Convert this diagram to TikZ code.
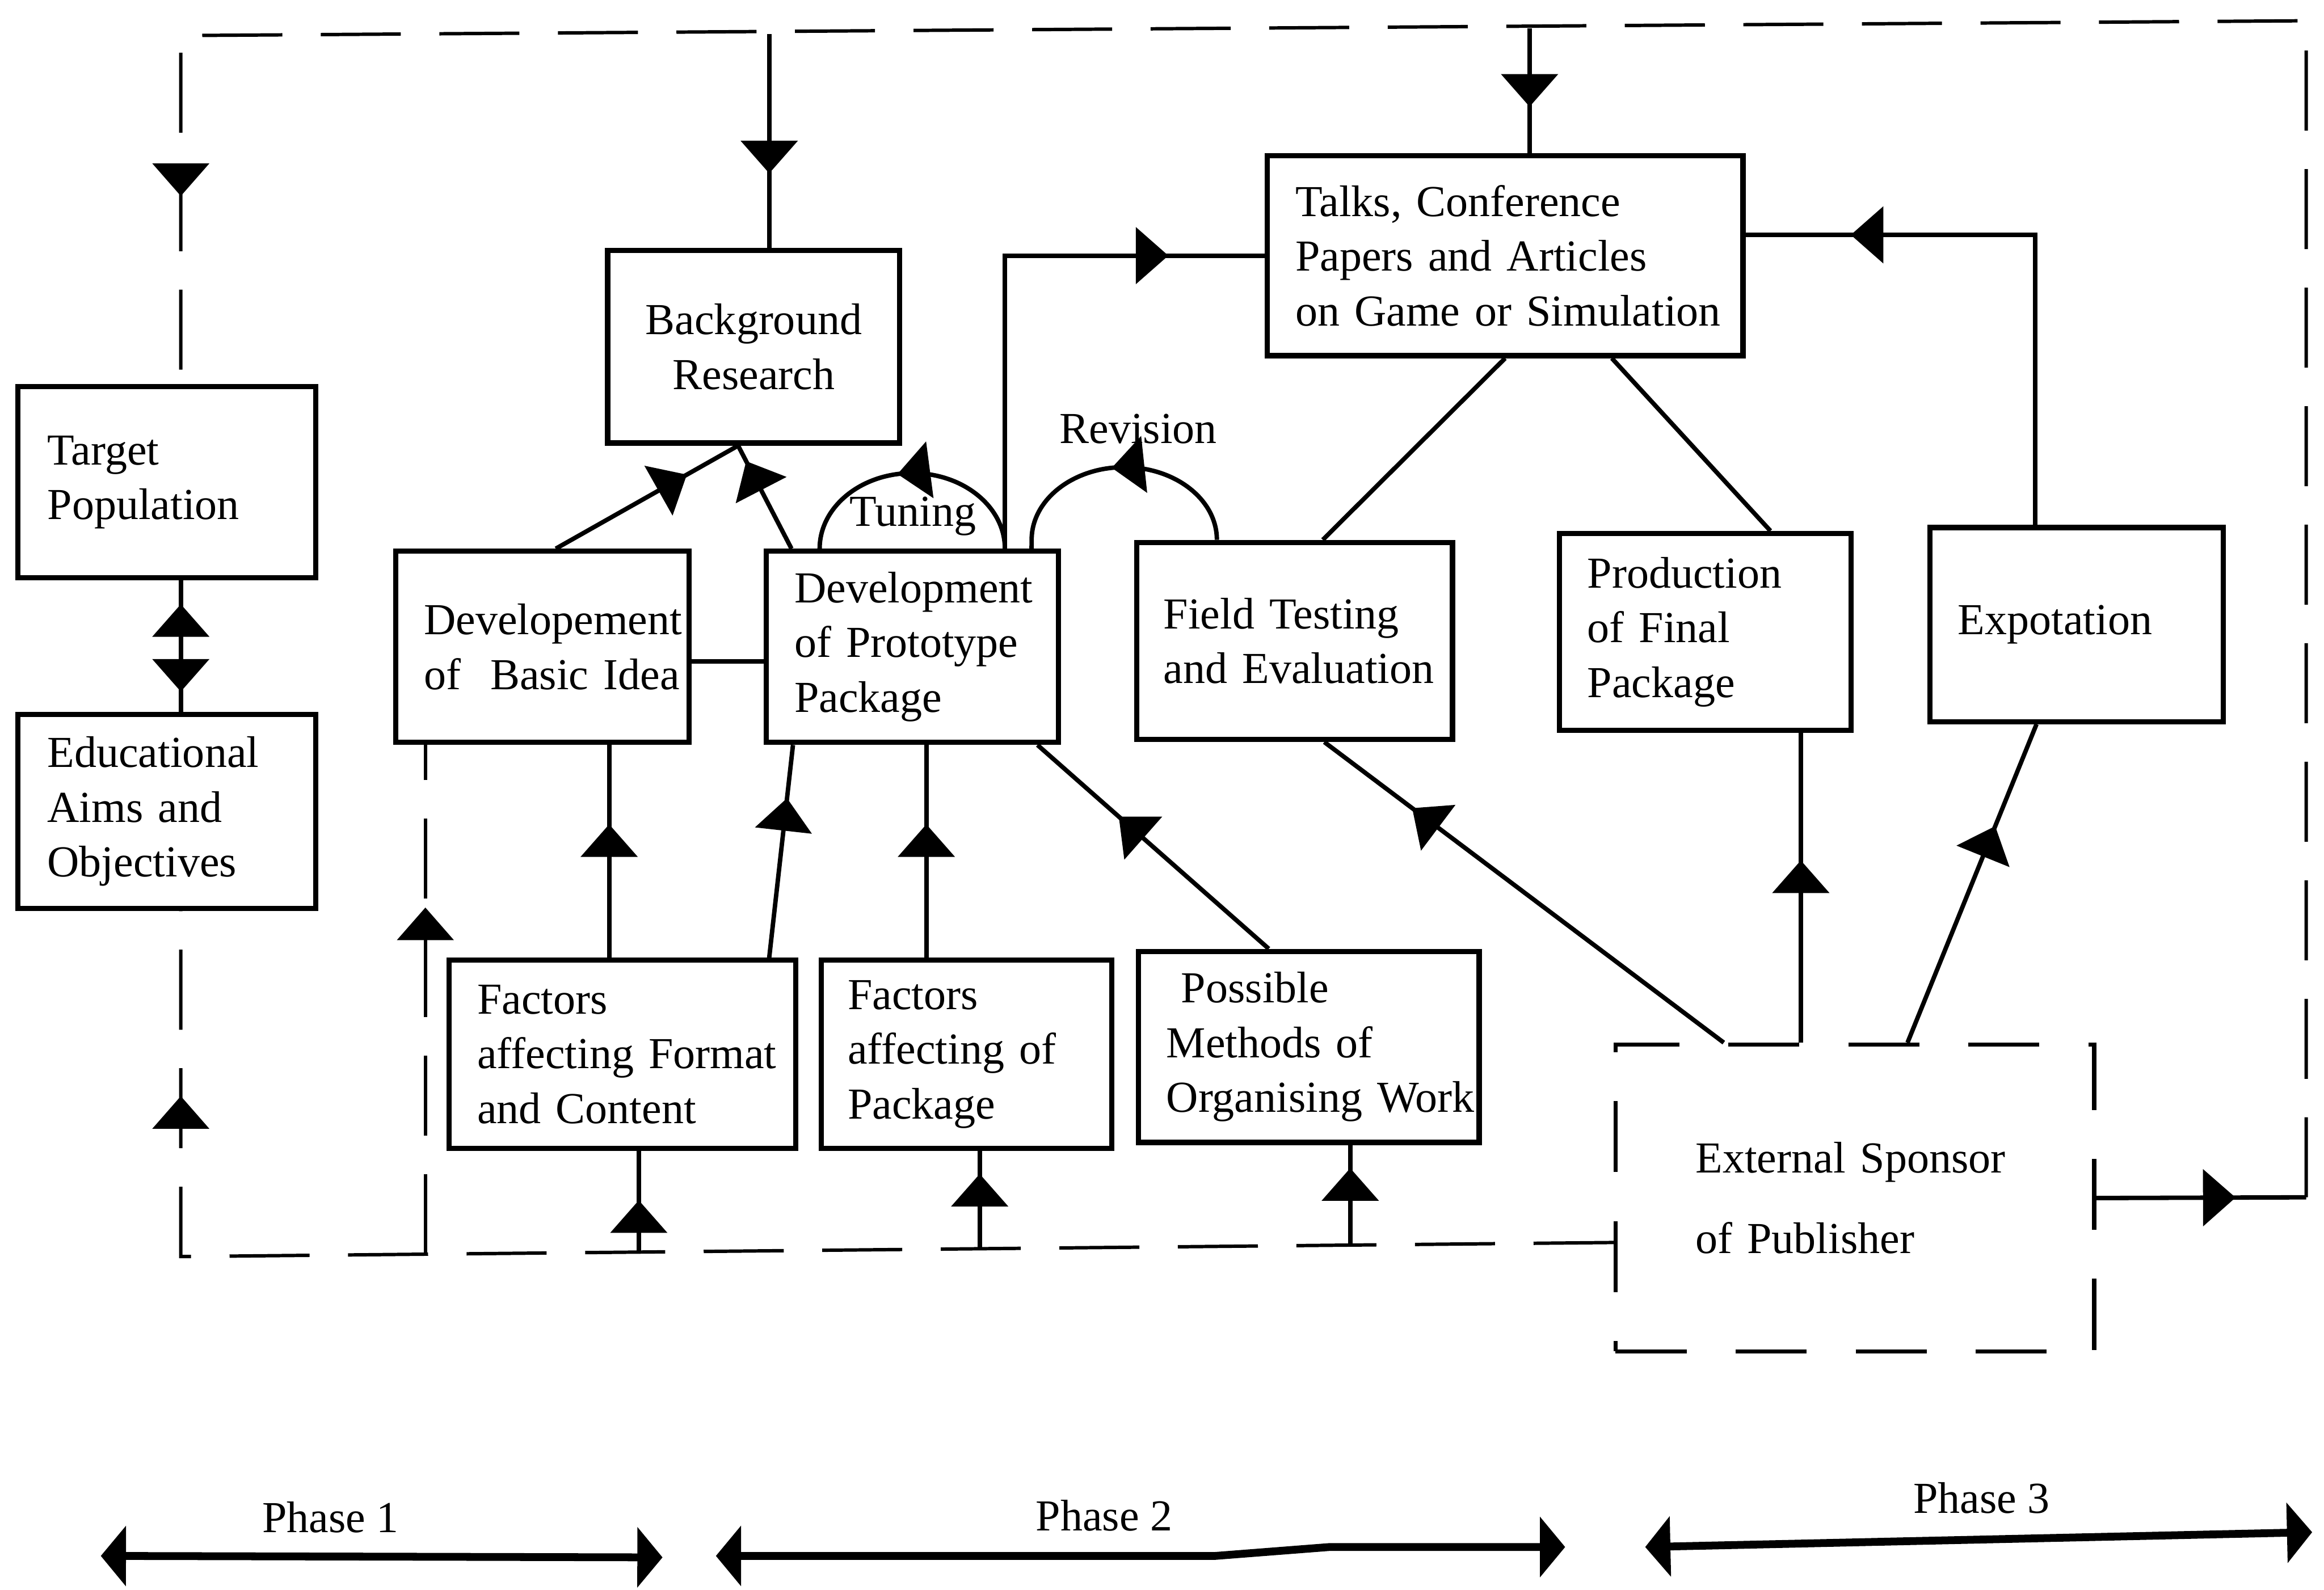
\documentclass[tikz,border=0pt]{standalone}
\usepackage{fontspec}
\setmainfont{Liberation Serif}
\usetikzlibrary{arrows.meta,decorations.markings,calc}

\tikzset{
  box/.style={draw, line width=2pt, rectangle, align=left, inner ysep=0pt,
    inner xsep=0.38cm, font=\fontsize{17}{21}\selectfont},
  sponsorbox/.style={box, line width=1.6pt, dash pattern=on 0.96cm off 0.66cm},
  lbl/.style={inner sep=0pt, font=\fontsize{17}{21}\selectfont},
  conn/.style={line width=1.7pt},
  outer/.style={line width=1.3pt, dash pattern=on 1.08cm off 0.52cm},
  phasearrow/.style={line width=3pt,
    {Triangle[length=0.34cm,width=0.8cm]}-{Triangle[length=0.34cm,width=0.8cm]}},
  mtip/.tip={Triangle[length=0.44cm,width=0.76cm]},
  tipat/.style={postaction={decorate,decoration={markings,
    mark=at position #1 with {\arrow{mtip}}}}},
  tipback/.style={postaction={decorate,decoration={markings,
    mark=at position #1 with {\arrowreversed{mtip}}}}},
}

\begin{document}
\begin{tikzpicture}[x=0.02cm, y=-0.02cm]
\useasboundingbox (0,0) rectangle (1568,1073);

% ---------- boxes ----------
\node[box, text width=3.22cm, inner xsep=0.4cm, minimum height=2.58cm] (tp) at (112.5,325.5)
  {\mbox{Target}\\\mbox{Population}};
\node[box, text width=3.22cm, inner xsep=0.4cm, minimum height=2.62cm] (ea) at (112.5,547.5)
  {\mbox{Educational}\\\mbox{Aims and}\\\mbox{Objectives}};
\node[box, align=center, text width=3.18cm, minimum height=2.6cm] (bg) at (508.5,234)
  {\mbox{Background}\\\mbox{Research}};
\node[box, text width=3.2cm, minimum height=2.58cm] (dbi) at (366,436.5)
  {\mbox{Developement}\\\mbox{of\ \ Basic Idea}};
\node[box, text width=3.18cm, minimum height=2.58cm] (dpp) at (615.5,436.5)
  {\mbox{Development}\\\mbox{of Prototype}\\\mbox{Package}};
\node[box, text width=5.66cm, minimum height=2.7cm] (tk) at (1015.5,172.5)
  {\mbox{Talks, Conference}\\\mbox{Papers and Articles}\\\mbox{on Game or Simulation}};
\node[box, text width=3.54cm, inner xsep=0.36cm, minimum height=2.66cm] (ft) at (873.5,432.5)
  {\mbox{Field Testing}\\\mbox{and Evaluation}};
\node[box, text width=3.18cm, minimum height=2.66cm] (pf) at (1150.5,426.5)
  {\mbox{Production}\\\mbox{of Final}\\\mbox{Package}};
\node[box, text width=3.2cm, minimum height=2.62cm] (ex) at (1401,421.5)
  {\mbox{Expotation}};
\node[box, text width=3.92cm, minimum height=2.54cm] (ffc) at (420,711.5)
  {\mbox{Factors}\\\mbox{affecting Format}\\\mbox{and Content}};
\node[box, text width=3.2cm, inner xsep=0.36cm, minimum height=2.54cm] (fap) at (652,711.5)
  {\mbox{Factors}\\\mbox{affecting of}\\\mbox{Package}};
\node[box, text width=3.84cm, minimum height=2.58cm] (pm) at (883,706.5)
  {\mbox{~Possible}\\\mbox{Methods of}\\\mbox{Organising Work}};
\node[sponsorbox, text width=4.3cm, inner xsep=1.08cm, minimum height=4.14cm] (es) at (1251.5,808.5)
  {\mbox{External Sponsor}\\[10pt]\mbox{of Publisher}};

% ---------- labels ----------
\node[lbl, anchor=base] (tuning) at (616,355) {Tuning};
\node[lbl, anchor=base] (revision) at (768,299) {Revision};
\node[lbl, anchor=base] (ph1) at (223,1034) {Phase 1};
\node[lbl, anchor=base] (ph2) at (745,1033) {Phase 2};
\node[lbl, anchor=base] (ph3) at (1337,1021) {Phase 3};

% ---------- junction points of the feedback loops ----------
\coordinate (tl) at (122,24);
\coordinate (tr) at (1556,14);
\coordinate (rc) at (1556,808);
\coordinate (bl) at (122,848);
\coordinate (d1) at (519,23);
\coordinate (d2) at (1032,19);
\coordinate (j1) at (287,846.4);
\coordinate (j2) at (431,845);
\coordinate (j3) at (661,842.7);
\coordinate (j4) at (911,840.3);

% outer feedback loop: sponsor -> top -> target population
\draw[conn, tipat=1.88cm] (es.east) -- (rc);
\draw[outer, tipat=-2.54cm] (rc) -- (tr) -- (tl) -- (tl |- tp.north);
\draw[conn, tipat=1.88cm] (d1) -- (d1 |- bg.north);
\draw[conn, tipat=1.06cm] (d2) -- (d2 |- tk.north);

% target population <-> educational aims
\draw[conn, tipback=0.32cm, tipat=1.5cm] (tl |- tp.south) -- (tl |- ea.north);

% bottom feedback line from the sponsor
\draw[outer, tipat=-2.5cm] ([yshift=-0.6cm]es.west) -- (bl) -- (bl |- ea.south);
\draw[outer, tipat=4.68cm] (j1) -- (j1 |- dbi.south);
\draw[conn, tipat=0.7cm] (j2) -- (j2 |- ffc.south);
\draw[conn, tipat=1.01cm] (j3) -- (j3 |- fap.south);
\draw[conn, tipat=1.04cm] (j4) -- (j4 |- pm.south);

% phase 1 / phase 2 links
\draw[conn] ([yshift=-0.2cm]dbi.east) -- ([yshift=-0.2cm]dpp.west);
\draw[conn, tipat=0.72] ([xshift=0.18cm]dbi.north) -- ([xshift=-0.21cm]bg.south);
\draw[conn, tipat=0.85] ([xshift=-1.63cm]dpp.north) -- ([xshift=-0.21cm]bg.south);

\coordinate (ffcA) at ([xshift=-0.18cm]ffc.north);
\draw[conn, tipat=1.8cm] (ffcA) -- (ffcA |- dbi.south);
\draw[conn, tipat=0.75] ([xshift=1.98cm]ffc.north) -- ([xshift=-1.61cm]dpp.south);
\coordinate (fapA) at ([xshift=-0.54cm]fap.north);
\draw[conn, tipat=1.8cm] (fapA) -- (fapA |- dpp.south);
\draw[conn, tipat=0.65] ([xshift=-0.54cm]pm.north) -- ([xshift=1.69cm]dpp.south);

% tuning and revision loops
\draw[conn, tipat=0.556] ([xshift=1.25cm]dpp.north)
  arc[start angle=0, end angle=180, x radius=1.25cm, y radius=1.02cm];
\draw[conn, tipat=0.53] ([xshift=-1.05cm]ft.north)
  arc[start angle=0, end angle=180, x radius=1.25cm, y radius=0.98cm]
  -- ([xshift=1.61cm]dpp.north);

% links to talks and papers
\draw[conn, tipat=-1.3cm] ([xshift=1.25cm]dpp.north) |- (tk.west);
\draw[conn, tipat=-1.42cm] ([xshift=-0.56cm]ex.north) |- ([yshift=0.28cm]tk.east);
\draw[conn] (tk.south) -- ([xshift=0.38cm]ft.north);
\draw[conn] ([xshift=1.44cm]tk.south) -- ([xshift=0.88cm]pf.north);

% sponsor links
\draw[conn, tipat=0.78] ([xshift=-1.77cm]es.north) -- ([xshift=0.4cm]ft.south);
\coordinate (esA) at ([xshift=-0.73cm]es.north);
\draw[conn, tipat=2.46cm] (esA) -- (esA |- pf.south);
\draw[conn, tipat=0.68] ([xshift=0.71cm]es.north) -- ([xshift=-0.54cm]ex.south);

% phase arrows
\coordinate (p1a) at (68,1050);
\coordinate (p1b) at (447,1051);
\coordinate (p2a) at (483,1050);
\coordinate (k1) at (820,1050);
\coordinate (k2) at (897,1044);
\coordinate (p2b) at (1056,1044);
\coordinate (p3a) at (1110,1044);
\coordinate (p3b) at (1560,1034);
\draw[phasearrow] (p1a) -- (p1b);
\draw[phasearrow] (p2a) -- (k1) -- (k2) -- (p2b);
\draw[phasearrow] (p3a) -- (p3b);
\end{tikzpicture}
\end{document}
